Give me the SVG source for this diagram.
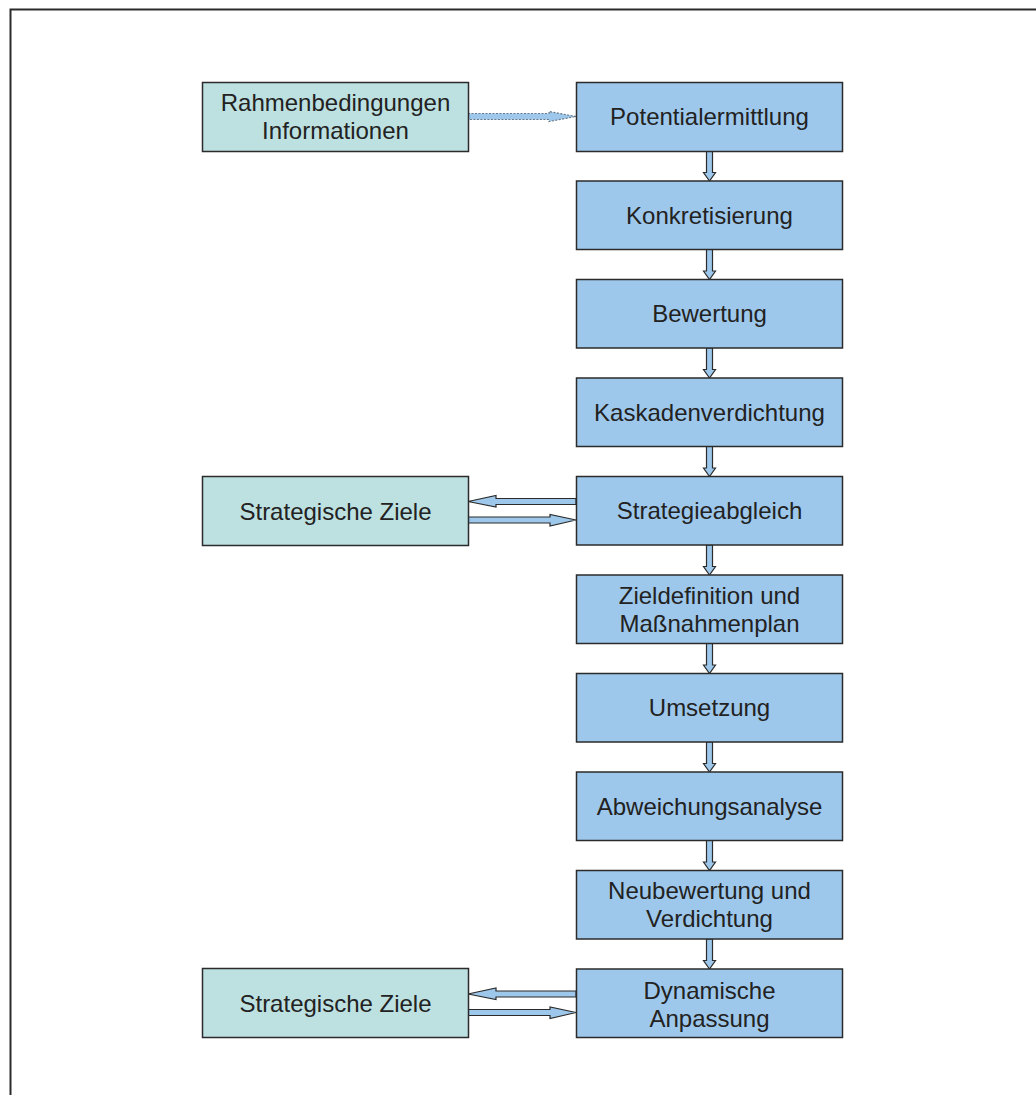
<svg xmlns="http://www.w3.org/2000/svg" width="1036" height="1095" viewBox="0 0 1036 1095">
  <style>
    .main rect { fill: #9ec8eb; stroke: #2b2b2b; stroke-width: 1.5; }
    .side rect { fill: #bde0e1; stroke: #2b2b2b; stroke-width: 1.5; }
    text { font-family: "Liberation Sans", Arial, sans-serif; font-size: 24px; fill: #222; text-anchor: middle; }
    .arrow { fill: #9ec8eb; stroke: #2b2b2b; stroke-width: 1.2; stroke-linejoin: miter; }
    .dotted { fill: #9ec8eb; stroke: #6a7a8a; stroke-width: 1.2; stroke-dasharray: 2 1.5; }
  </style>
  <rect width="1036" height="1095" fill="#fff"/>
  <!-- page frame -->
  <path d="M10.5 1095 V9.5 H1036" fill="none" stroke="#2b2b2b" stroke-width="2"/>

  <!-- connectors -->
  <g id="connectors">
    <path class="dotted" d="M468 113.5 H549 V111.5 L576 116.5 L549 121.5 V119.5 H468 Z"/>
    <!-- vertical flow arrows -->
    <g id="down-arrows">
      <path class="arrow" d="M706.5 151 V172.5 H703.5 L709.5 181 L715.5 172.5 H712.5 V151 Z"/>
      <path class="arrow" d="M706.5 249.5 V271 H703.5 L709.5 279.5 L715.5 271 H712.5 V249.5 Z"/>
      <path class="arrow" d="M706.5 348 V369.5 H703.5 L709.5 378 L715.5 369.5 H712.5 V348 Z"/>
      <path class="arrow" d="M706.5 446.5 V468 H703.5 L709.5 476.5 L715.5 468 H712.5 V446.5 Z"/>
      <path class="arrow" d="M706.5 545 V566.5 H703.5 L709.5 575 L715.5 566.5 H712.5 V545 Z"/>
      <path class="arrow" d="M706.5 643.5 V665 H703.5 L709.5 673.5 L715.5 665 H712.5 V643.5 Z"/>
      <path class="arrow" d="M706.5 742 V763.5 H703.5 L709.5 772 L715.5 763.5 H712.5 V742 Z"/>
      <path class="arrow" d="M706.5 840.5 V862 H703.5 L709.5 870.5 L715.5 862 H712.5 V840.5 Z"/>
      <path class="arrow" d="M706.5 939 V960.5 H703.5 L709.5 969 L715.5 960.5 H712.5 V939 Z"/>
    </g>
    <!-- exchange with strategic goals -->
    <path class="arrow" d="M576 498.5 H496 V495.5 L468 501.5 L496 507 V504.5 H576 Z"/>
    <path class="arrow" d="M468 517 H550 V514.5 L576 520 L550 526 V523 H468 Z"/>
    <path class="arrow" d="M576 991 H496 V988 L468 994 L496 999.5 V997 H576 Z"/>
    <path class="arrow" d="M468 1009.5 H550 V1007 L576 1012.5 L550 1018.5 V1015.5 H468 Z"/>
  </g>

  <!-- side nodes -->
  <g id="rahmenbedingungen" class="side">
    <rect x="202.5" y="82.5" width="266" height="69"/>
    <text x="335.5" y="111">Rahmenbedingungen</text>
    <text x="335.5" y="139">Informationen</text>
  </g>
  <g id="strategische-ziele-1" class="side">
    <rect x="202.5" y="476.5" width="266" height="69"/>
    <text x="335.5" y="519.5">Strategische Ziele</text>
  </g>
  <g id="strategische-ziele-2" class="side">
    <rect x="202.5" y="968.5" width="266" height="69"/>
    <text x="335.5" y="1011.5">Strategische Ziele</text>
  </g>

  <!-- main process nodes -->
  <g id="potentialermittlung" class="main">
    <rect x="576.5" y="82.5" width="266" height="69"/>
    <text x="709.5" y="125">Potentialermittlung</text>
  </g>
  <g id="konkretisierung" class="main">
    <rect x="576.5" y="181" width="266" height="68.5"/>
    <text x="709.5" y="223.5">Konkretisierung</text>
  </g>
  <g id="bewertung" class="main">
    <rect x="576.5" y="279.5" width="266" height="68.5"/>
    <text x="709.5" y="322">Bewertung</text>
  </g>
  <g id="kaskadenverdichtung" class="main">
    <rect x="576.5" y="378" width="266" height="68.5"/>
    <text x="709.5" y="420.5">Kaskadenverdichtung</text>
  </g>
  <g id="strategieabgleich" class="main">
    <rect x="576.5" y="476.5" width="266" height="68.5"/>
    <text x="709.5" y="519">Strategieabgleich</text>
  </g>
  <g id="zieldefinition" class="main">
    <rect x="576.5" y="575" width="266" height="68.5"/>
    <text x="709.5" y="604">Zieldefinition und</text>
    <text x="709.5" y="632">Maßnahmenplan</text>
  </g>
  <g id="umsetzung" class="main">
    <rect x="576.5" y="673.5" width="266" height="68.5"/>
    <text x="709.5" y="716">Umsetzung</text>
  </g>
  <g id="abweichungsanalyse" class="main">
    <rect x="576.5" y="772" width="266" height="68.5"/>
    <text x="709.5" y="814.5">Abweichungsanalyse</text>
  </g>
  <g id="neubewertung" class="main">
    <rect x="576.5" y="870.5" width="266" height="68.5"/>
    <text x="709.5" y="899">Neubewertung und</text>
    <text x="709.5" y="927">Verdichtung</text>
  </g>
  <g id="dynamische-anpassung" class="main">
    <rect x="576.5" y="969" width="266" height="68.5"/>
    <text x="709.5" y="999">Dynamische</text>
    <text x="709.5" y="1027">Anpassung</text>
  </g>
</svg>
